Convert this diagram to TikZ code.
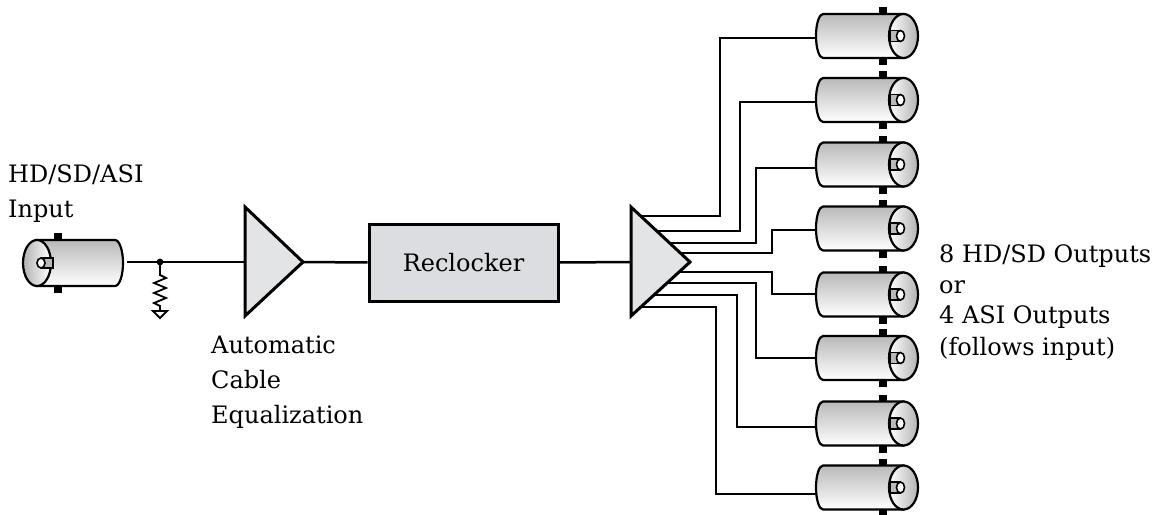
\documentclass[tikz,border=0pt]{standalone}
\usepackage{fontspec}
\setmainfont{DejaVu Serif}
\usetikzlibrary{calc}
\definecolor{ampfill}{HTML}{E3E4E6}
\definecolor{boxfill}{HTML}{DCDDE0}
\tikzset{
  wire/.style={line width=2.5pt},
  ampshape/.style={draw, fill=ampfill, line width=3pt, line join=miter},
  blockbox/.style={draw, fill=boxfill, line width=3pt, minimum width=189pt, minimum height=77pt, inner sep=0pt, font=\fontsize{24}{29}\selectfont},
  lbl/.style={anchor=base west, inner sep=0pt, font=\fontsize{24}{29}\selectfont},
  bncline/.style={line width=2.2pt},
  pinline/.style={line width=1.6pt},
  pics/bncout/.style={code={
    \fill (-24.5,-29) rectangle (-16.5,-21);
    \fill (-24.5,21) rectangle (-16.5,29);
    \draw[bncline, top color=gray!55, bottom color=white] (-80.5,-22) -- (0,-22) -- (0,22) -- (-80.5,22) arc[start angle=90,end angle=270,x radius=7,y radius=22] -- cycle;
    \draw[bncline, left color=white, right color=gray!60] (0,0) ellipse[x radius=14.5, y radius=22];
    \draw[pinline, fill=gray!55] (-13.5,-5.5) rectangle (-4.5,5.5);
    \draw[pinline, fill=white] (-3,0) ellipse[x radius=4, y radius=5.5];
    \coordinate (-w) at (-87.5,0);
  }},
  pics/bncin/.style={code={
    \fill (17,-30) rectangle (25,-22);
    \fill (17,22) rectangle (25,30);
    \draw[bncline, top color=gray!55, bottom color=white] (0,-23) -- (78,-23) arc[start angle=-90,end angle=90,x radius=8,y radius=23] -- (0,23) -- cycle;
    \draw[bncline, left color=gray!60, right color=white] (0,0) ellipse[x radius=14, y radius=23];
    \draw[pinline, fill=gray!55] (5,-5) rectangle (16,5);
    \draw[pinline, fill=white] (4,0) ellipse[x radius=4, y radius=5];
    \coordinate (-w) at (86,0);
  }}
}
\begin{document}
\begin{tikzpicture}[x=1pt, y=-1pt]
\useasboundingbox (0,0) rectangle (1175,514);

% input connector and termination
\pic (in) at (37,263) {bncin};
\coordinate (jn) at (160,262);
\coordinate (a1in) at (245,262);
\coordinate (a1out) at (303,262);
\draw[wire] (in-w) ++(4,-1) coordinate (inw2) -- (a1in);
\fill (jn) circle[radius=3.4];
\draw[line width=1.8pt, line join=miter] (jn) -- ++(0,13) -- ++(6,3) -- ++(-12,5) -- ++(12,5) -- ++(-12,5) -- ++(12,5) -- ++(-12,5) -- ++(6,3) -- ++(0,5) coordinate (gnd);
\draw[line width=1.8pt, fill=white, line join=miter] (gnd) ++(-7,0) -- ++(14,0) -- ++(-7,7) -- cycle;

% amplifier 1
\draw[ampshape] (245,207) -- (303,262) -- (245,316) -- cycle;

% reclocker
\node[blockbox] (rc) at (463.5,262.5) {Reclocker};
\coordinate (a2in) at (631,262);
\draw[wire] (a1out) -- (rc.west);
\draw[wire] (rc.east) -- (a2in);

% output wires
\foreach \i/\t/\c/\w/\x in {1/216/36/38/720, 2/231/100/102/740, 3/243/164.5/168/756, 4/253/228.5/230/772, 5/272/294.5/294/772, 6/283/358/358/756, 7/295/423.5/427/737, 8/307/487.5/494/716}{
  \coordinate (t\i) at (634,\t);
  \coordinate (e\i) at (818,\w);
  \coordinate (c\i) at (\x,0);
  \draw[wire] (t\i) -- (t\i -| c\i) |- (e\i);
}

% amplifier 2 (fan-out)
\draw[ampshape] (631,207) -- (690,262) -- (631,316) -- cycle;

% output connectors
\foreach \i/\c in {1/36, 2/100, 3/164.5, 4/228.5, 5/294.5, 6/358, 7/423.5, 8/487.5}{
  \pic (o\i) at (903.5,\c) {bncout};
}

% labels
\node[lbl] (l1) at (8,182) {HD/SD/ASI};
\node[lbl] (l2) at (8,217) {Input};
\node[lbl] (l3) at (211,353) {Automatic};
\node[lbl] (l4) at (211,388) {Cable};
\node[lbl] (l5) at (211,423) {Equalization};
\node[lbl] (r1) at (939,262) {8 HD/SD Outputs};
\node[lbl] (r2) at (939,293) {or};
\node[lbl] (r3) at (939,323) {4 ASI Outputs};
\node[lbl] (r4) at (939,355) {(follows input)};
\end{tikzpicture}
\end{document}
